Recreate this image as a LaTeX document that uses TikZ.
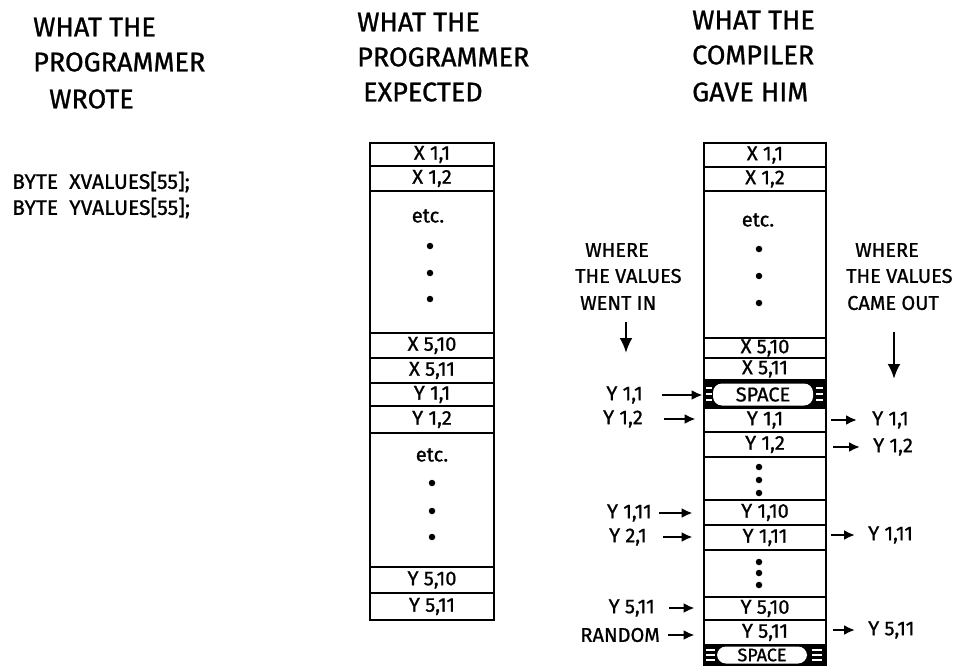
\documentclass[tikz,border=0pt]{standalone}
\usepackage{fontspec}
\setmainfont{Fira Sans}[FakeBold=1]
\usetikzlibrary{arrows.meta}
\begin{document}
\begin{tikzpicture}[x=1pt,y=-1pt,
  head/.style={anchor=west,inner sep=0pt,font=\fontsize{27pt}{30pt}\selectfont},
  code/.style={anchor=west,inner sep=0pt,font=\fontsize{21pt}{23pt}\selectfont},
  lab/.style={inner sep=0pt,font=\fontsize{20pt}{22pt}\selectfont},
  cellM/.style={draw,line width=2.8pt,minimum width=124pt,inner sep=0pt,font=\fontsize{20pt}{22pt}\selectfont},
  cellR/.style={draw,line width=2.8pt,minimum width=122pt,inner sep=0pt,font=\fontsize{20pt}{22pt}\selectfont},
  blk/.style={draw,fill=black,line width=2.8pt,minimum width=122pt,inner sep=0pt},
  spc/.style={fill=white,rounded corners=9pt,inner sep=0pt,font=\fontsize{20pt}{22pt}\selectfont},
  dot/.style={circle,fill=black,inner sep=0pt,minimum size=6.5pt},
  tick/.style={white,line width=1.4pt},
  arr/.style={-{Latex[length=11pt,width=10pt]},line width=2.6pt},
  darr/.style={-{Latex[length=15pt,width=13pt]},line width=2.6pt}]
\useasboundingbox (0,0) rectangle (964,666);

% headings
\node[head] (h1a) at (33,27) {WHAT THE};
\node[head] (h1b) at (33,62) {PROGRAMMER};
\node[head] (h1c) at (49,99) {WROTE};
\node[head] (h2a) at (357,22) {WHAT THE};
\node[head] (h2b) at (357,57) {PROGRAMMER};
\node[head] (h2c) at (363,92) {EXPECTED};
\node[head] (h3a) at (692,20) {WHAT THE};
\node[head] (h3b) at (692,55) {COMPILER};
\node[head] (h3c) at (692,92) {GAVE HIM};

% code
\node[code] (c1) at (12,182) {BYTE\ \ XVALUES[55];};
\node[code] (c2) at (12,208) {BYTE\ \ YVALUES[55];};

% middle column
\node[cellM,minimum height=23pt] (m1) at (432,154.5) {X 1,1};
\node[cellM,minimum height=25pt] (m2) at (432,178.5) {X 1,2};
\node[cellM,minimum height=142pt] (m3) at (432,262) {};
\node[cellM,minimum height=25pt] (m4) at (432,345.5) {X 5,10};
\node[cellM,minimum height=25pt] (m5) at (432,370.5) {X 5,11};
\node[cellM,minimum height=23pt] (m6) at (432,394.5) {Y 1,1};
\node[cellM,minimum height=27pt] (m7) at (432,419.5) {Y 1,2};
\node[cellM,minimum height=134pt] (m8) at (432,500) {};
\node[cellM,minimum height=26pt] (m9) at (432,580) {Y 5,10};
\node[cellM,minimum height=27pt] (m10) at (432,606.5) {Y 5,11};
\node[lab] (me1) at (428,216) {etc.};
\node[dot] (md1) at (430,246) {};
\node[dot] (md2) at (430,273) {};
\node[dot] (md3) at (430,299) {};
\node[lab] (me2) at (432,455) {etc.};
\node[dot] (md4) at (432,483) {};
\node[dot] (md5) at (432,511) {};
\node[dot] (md6) at (432,537) {};

% right column
\node[cellR,minimum height=24pt] (r1) at (765,155) {X 1,1};
\node[cellR,minimum height=24pt] (r2) at (765,179) {X 1,2};
\node[cellR,minimum height=147pt] (r3) at (765,264.5) {};
\node[cellR,minimum height=20pt] (r4) at (765,348) {X 5,10};
\node[cellR,minimum height=22pt] (r5) at (765,369) {X 5,11};
\node[blk,minimum height=28pt] (r6) at (765,394) {};
\node[spc,minimum width=100pt,minimum height=22pt] (r6t) at (763,394.5) {SPACE};
\foreach \yy in {388,394,400}{
  \draw[tick] (706,\yy) -- (712,\yy);
  \draw[tick] (816,\yy) -- (823,\yy);
}
\node[cellR,minimum height=24pt] (r7) at (765,420) {Y 1,1};
\node[cellR,minimum height=25pt] (r8) at (765,444.5) {Y 1,2};
\node[cellR,minimum height=43pt] (r9) at (765,478.5) {};
\node[cellR,minimum height=25pt] (r10) at (765,512.5) {Y 1,10};
\node[cellR,minimum height=25pt] (r11) at (765,537.5) {Y 1,11};
\node[cellR,minimum height=47pt] (r12) at (765,573.5) {};
\node[cellR,minimum height=23pt] (r13) at (765,608.5) {Y 5,10};
\node[cellR,minimum height=25pt] (r14) at (765,632.5) {Y 5,11};
\node[blk,minimum height=22pt] (r15) at (765,656) {};
\node[spc,minimum width=90pt,minimum height=17pt,font=\fontsize{18pt}{20pt}\selectfont] (r15t) at (762,655) {SPACE};
\foreach \yy in {650,655,660}{
  \draw[tick] (706,\yy) -- (715,\yy);
  \draw[tick] (812,\yy) -- (822,\yy);
}
\node[lab] (re1) at (758,220) {etc.};
\node[dot] (rd1) at (759,249) {};
\node[dot] (rd2) at (759,276) {};
\node[dot] (rd3) at (759,303) {};
\node[dot] (rd4) at (759,467) {};
\node[dot] (rd5) at (759,480) {};
\node[dot] (rd6) at (759,493) {};
\node[dot] (rd7) at (759,562) {};
\node[dot] (rd8) at (759,573) {};
\node[dot] (rd9) at (759,585) {};

% where the values went in
\node[lab,anchor=west] (wa) at (585,250) {WHERE};
\node[lab,anchor=west] (wb) at (575,276) {THE VALUES};
\node[lab,anchor=west] (wc) at (580,303) {WENT IN};
\coordinate (inEnd) at (626,353);
\draw[darr,shorten <=12pt] (wc.south -| inEnd) -- (inEnd);

% where the values came out
\node[lab,anchor=west] (ca) at (855,250) {WHERE};
\node[lab,anchor=west] (cb) at (846,276) {THE VALUES};
\node[lab,anchor=west] (cc) at (847,303) {CAME OUT};
\coordinate (outEnd) at (894,379);
\draw[darr,shorten <=22pt] (cc.south -| outEnd) -- (outEnd);

% input labels
\node[lab,anchor=east] (li1) at (643,395) {Y 1,1};
\node[lab,anchor=east] (li2) at (643,419) {Y 1,2};
\node[lab,anchor=east] (li3) at (652,513) {Y 1,11};
\node[lab,anchor=east] (li4) at (647,537) {Y 2,1};
\node[lab,anchor=east] (li5) at (655,608) {Y 5,11};
\node[lab,anchor=east] (li6) at (660,635) {RANDOM};
\draw[arr,shorten <=19pt,shorten >=0pt] (li1.east) -- (li1.east -| r6.west);
\draw[arr,shorten <=21pt,shorten >=7pt] (li2.east) -- (li2.east -| r7.west);
\draw[arr,shorten <=7pt,shorten >=10pt] (li3.east) -- (li3.east -| r10.west);
\draw[arr,shorten <=16pt,shorten >=10pt] (li4.east) -- (li4.east -| r11.west);
\draw[arr,shorten <=14pt,shorten >=8pt] (li5.east) -- (li5.east -| r13.west);
\draw[arr,shorten <=8pt,shorten >=8pt] (li6.east) -- (li6.east -| r14.west);

% output labels
\node[lab,anchor=west] (ro1) at (872,420) {Y 1,1};
\node[lab,anchor=west] (ro2) at (873,447) {Y 1,2};
\node[lab,anchor=west] (ro3) at (868,535) {Y 1,11};
\node[lab,anchor=west] (ro4) at (868,630) {Y 5,11};
\draw[arr,shorten <=4pt,shorten >=15pt] (ro1.west -| r7.east) -- (ro1.west);
\draw[arr,shorten <=6pt,shorten >=13pt] (ro2.west -| r8.east) -- (ro2.west);
\draw[arr,shorten <=4pt,shorten >=13pt] (ro3.west -| r11.east) -- (ro3.west);
\draw[arr,shorten <=6pt,shorten >=13pt] (ro4.west -| r14.east) -- (ro4.west);
\end{tikzpicture}
\end{document}
